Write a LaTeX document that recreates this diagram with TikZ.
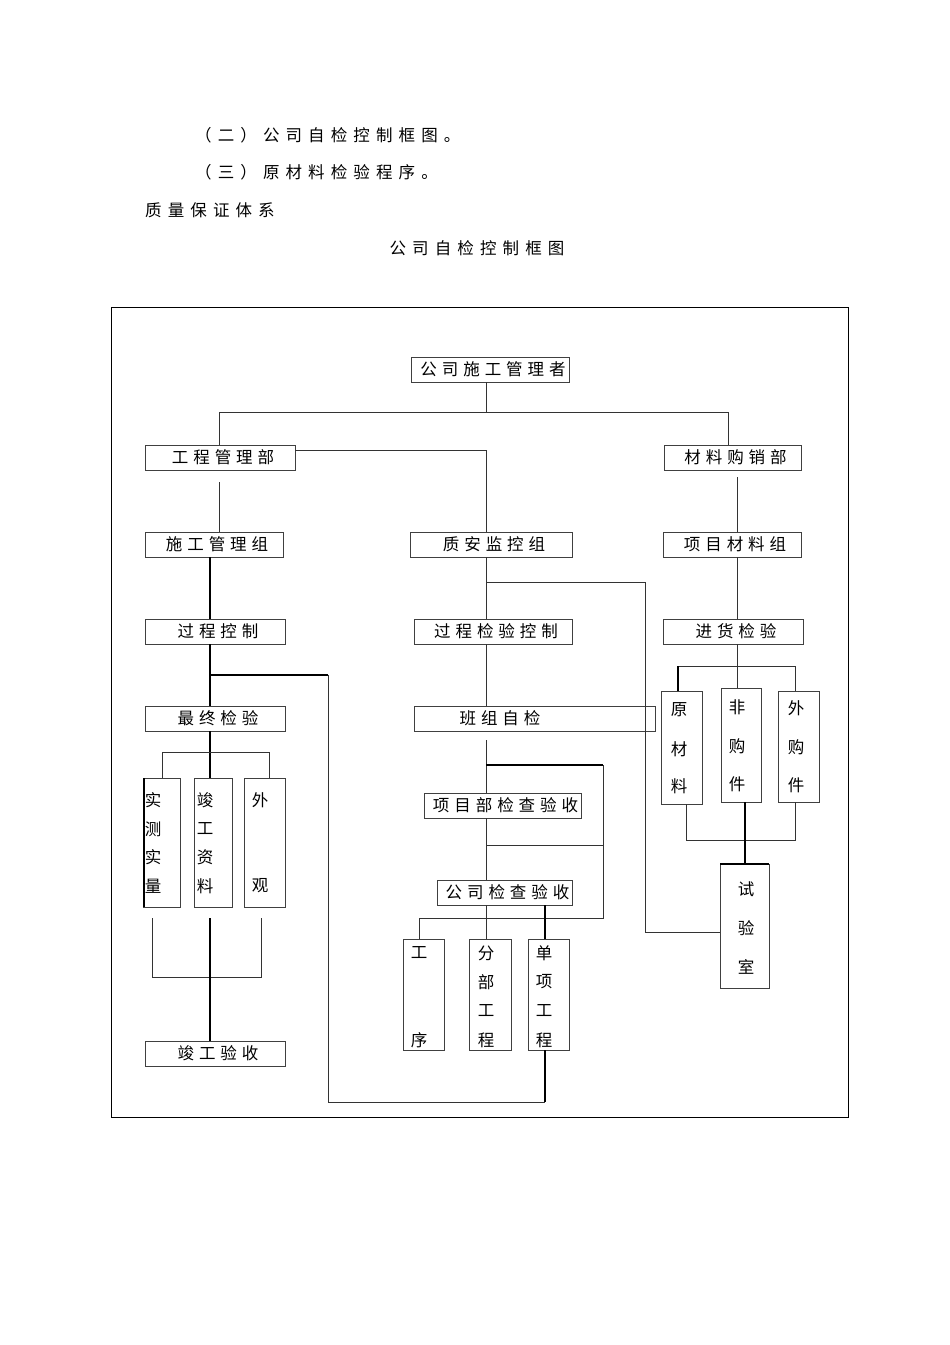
\documentclass[tikz,border=0pt]{standalone}
\usepackage{fontspec}
\newfontfamily\cjk[LetterSpace=30]{Noto Sans CJK SC}
\newfontfamily\cjkh[LetterSpace=37]{Noto Sans CJK SC}
\newfontfamily\cjkv{Noto Sans CJK SC}
\begin{document}
\begin{tikzpicture}[x=1pt,y=-1pt,
  ln/.style={line width=1pt,draw=black!80},
  tk/.style={line width=2pt,draw=black},
  bx/.style={draw=black!75,line width=1pt},
  tx/.style={font=\cjk\fontsize{16.5}{16}\selectfont,inner sep=0pt},
  hx/.style={font=\cjkh\fontsize{16.5}{16}\selectfont,inner sep=0pt},
  vt/.style={font=\cjkv\fontsize{16.5}{16}\selectfont,inner sep=0pt}]
\useasboundingbox (0,0) rectangle (950,1345);
\node[hx,anchor=west] (h1) at (195,135) {（二）公司自检控制框图。};
\node[hx,anchor=west] (h2) at (195,172) {（三）原材料检验程序。};
\node[hx,anchor=west] (h3) at (145,210) {质量保证体系};
\node[hx] (h4) at (477,248) {公司自检控制框图};
\draw[line width=1pt] (111,307) rectangle (848,1117);
% boxes
\newcommand\hb[6]{\draw[bx] (#2,#3) rectangle (#4,#5);
  \node[tx] (#1) at ({(#2+#4)/2+3},{(#3+#5)/2}) {#6};}
\hb{A}{411}{357}{569}{382}{公司施工管理者}
\hb{B}{145}{445}{295}{470}{工程管理部}
\hb{C}{664}{445}{801}{470}{材料购销部}
\hb{D}{145}{532}{283}{557}{施工管理组}
\hb{E}{410}{532}{572}{557}{质安监控组}
\hb{F}{663}{532}{801}{557}{项目材料组}
\hb{G}{145}{619}{285}{644}{过程控制}
\hb{H}{414}{619}{572}{644}{过程检验控制}
\hb{I}{663}{619}{803}{644}{进货检验}
\hb{J}{145}{706}{285}{731}{最终检验}
\draw[bx] (414,706) rectangle (655,731);
\node[tx] (K) at (500,718) {班组自检};
\hb{O}{145}{1041}{285}{1066}{竣工验收}
\hb{P}{424}{793}{581}{818}{项目部检查验收}
\hb{Q}{437}{880}{572}{905}{公司检查验收}
% vertical boxes
\draw[bx] (143,778) rectangle (180,907); \draw[tk] (144,778)--(144,907);
\draw[bx] (194,778) rectangle (232,907);
\draw[bx] (244,778) rectangle (285,907);
\draw[bx] (403,939) rectangle (444,1050);
\draw[bx] (469,939) rectangle (511,1050);
\draw[bx] (528,939) rectangle (569,1050);
\draw[bx] (661,691) rectangle (702,804);
\draw[bx] (721,688) rectangle (761,802);
\draw[bx] (778,691) rectangle (819,802);
\draw[bx] (720,864) rectangle (769,988); \draw[tk] (720,864)--(769,864);
\foreach \c/\x/\y in {实/153/800,测/153/829,实/153/857,量/153/886,
  竣/205/800,工/205/829,资/205/857,料/205/886,外/260/800,观/260/886,
  工/419/953,序/419/1040,分/486/953,部/486/982,工/486/1011,程/486/1040,
  单/544/953,项/544/982,工/544/1011,程/544/1040,
  原/679/710,材/679/749,料/679/786,非/737/707,购/737/746,件/737/784,
  外/796/708,购/796/747,件/796/785,试/746/889,验/746/928,室/746/967}
  \node[vt] at (\x,\y) {\c};
% connectors
\draw[ln] (486,382)--(486,412) (219,445)--(219,412)--(728,412)--(728,445);
\draw[ln] (295,450)--(486,450)--(486,532);
\draw[ln] (219,482)--(219,532);
\draw[tk] (210,557)--(210,619);
\draw[tk] (210,644)--(210,706) (210,675)--(328,675);
\draw[ln] (328,675)--(328,1102)--(545,1102);
\draw[tk] (545,1102)--(545,1050);
\draw[tk] (210,731)--(210,778);
\draw[ln] (162,778)--(162,752)--(269,752)--(269,778);
\draw[ln] (152,918)--(152,977)--(261,977)--(261,918);
\draw[tk] (210,918)--(210,1041);
\draw[ln] (486,557)--(486,619) (486,582)--(645,582)--(645,932)--(720,932);
\draw[ln] (486,644)--(486,706);
\draw[ln] (486,740)--(486,793) (486,818)--(486,880) (486,905)--(486,939) (486,845)--(603,845);
\draw[tk] (486,765)--(603,765);
\draw[ln] (603,765)--(603,918)--(419,918)--(419,939);
\draw[tk] (545,905)--(545,939);
\draw[ln] (737,477)--(737,532) (737,557)--(737,619) (737,644)--(737,688);
\draw[ln] (678,666)--(795,666)--(795,691);
\draw[tk] (678,666)--(678,691);
\draw[ln] (686,804)--(686,840)--(795,840)--(795,802);
\draw[tk] (745,802)--(745,864);
\end{tikzpicture}
\end{document}
